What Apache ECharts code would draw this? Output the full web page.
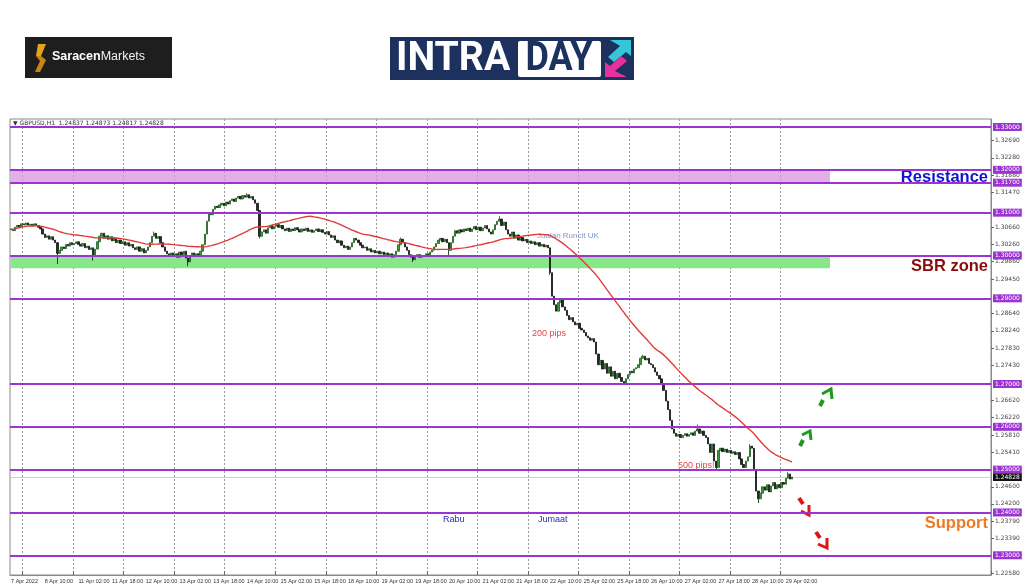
<!DOCTYPE html>
<html><head><meta charset="utf-8">
<script src="https://cdn.jsdelivr.net/npm/echarts@6/dist/echarts.min.js"></script>
<style>html,body{margin:0;padding:0;background:#fff}#c{width:1024px;height:587px}</style>
</head><body><div id="c"></div>
<script>
// ---------- DATA ----------
const xLabels = ['7 Apr 2022','8 Apr 10:00','11 Apr 02:00','11 Apr 18:00','12 Apr 10:00','13 Apr 02:00','13 Apr 18:00','14 Apr 10:00','15 Apr 02:00','15 Apr 18:00','18 Apr 10:00','19 Apr 02:00','19 Apr 18:00','20 Apr 10:00','21 Apr 02:00','21 Apr 18:00','22 Apr 10:00','25 Apr 02:00','25 Apr 18:00','26 Apr 10:00','27 Apr 02:00','27 Apr 18:00','28 Apr 10:00','29 Apr 02:00'];
const firstOpen = 1.3060;
const closes = [
1.3062,1.3058,1.3066,1.3070,1.3068,1.3074,1.3072,1.3076,1.3071,1.3073,1.3069,1.3074,1.3070,1.3066,1.3062,
1.3050,1.3042,1.3046,1.3038,1.3044,1.3036,1.3030,
1.3005,
1.3012,1.3020,1.3016,1.3026,1.3022,1.3030,1.3025,1.3028,
1.3032,1.3026,1.3022,1.3028,1.3018,1.3022,1.3014,1.3018,
1.3000,
1.3015,1.3032,1.3045,1.3052,1.3040,1.3046,
1.3038,1.3044,1.3034,1.3040,1.3030,1.3036,1.3028,1.3032,1.3024,1.3030,
1.3022,1.3026,1.3018,1.3014,1.3020,1.3010,1.3016,1.3006,1.3012,
1.3020,1.3030,1.3045,1.3052,
1.3040,1.3044,1.3030,1.3020,1.3010,1.3004,
1.3000,1.3006,1.2998,1.3004,1.2996,1.3008,1.3002,1.3010,1.2994,1.2985,1.3000,1.3006,1.2998,1.3004,1.3000,
1.3010,1.3025,1.3050,1.3080,1.3100,1.3095,1.3108,1.3115,1.3112,
1.3118,1.3122,1.3116,1.3125,1.3120,1.3128,1.3132,1.3126,1.3134,1.3138,1.3132,1.3140,
1.3136,1.3142,1.3134,1.3138,1.3130,1.3122,1.3105,
1.3045,
1.3055,1.3060,1.3052,1.3065,1.3070,1.3062,1.3068,
1.3072,1.3066,1.3070,1.3062,1.3058,1.3064,1.3056,1.3062,1.3058,1.3065,
1.3060,1.3055,1.3062,1.3058,1.3064,1.3056,1.3060,1.3054,1.3058,1.3062,1.3056,1.3060,1.3054,1.3050,1.3056,
1.3048,1.3042,1.3046,1.3036,1.3030,1.3034,1.3024,1.3018,1.3022,1.3014,
1.3020,1.3030,1.3040,1.3036,1.3030,
1.3024,1.3018,1.3020,1.3012,1.3016,1.3008,1.3012,1.3006,1.3010,1.3004,
1.3008,1.3002,1.3006,1.2998,1.3004,1.2996,1.3002,1.3010,1.3025,1.3038,
1.3030,1.3020,1.3012,1.3002,1.2996,1.2990,1.2998,1.3002,1.2996,1.3000,
1.2998,1.3004,1.3000,1.3008,1.3012,
1.3020,1.3028,1.3036,1.3040,1.3032,1.3038,1.3030,
1.3012,
1.3030,1.3045,1.3058,1.3052,1.3060,1.3055,1.3062,
1.3058,1.3064,1.3056,1.3062,1.3068,1.3060,1.3066,1.3058,1.3064,1.3070,1.3062,1.3055,1.3050,
1.3060,1.3072,1.3080,1.3085,1.3070,1.3078,1.3060,1.3050,
1.3045,1.3055,1.3040,1.3048,1.3036,1.3042,1.3034,1.3038,1.3030,
1.3034,1.3028,1.3032,1.3025,1.3030,1.3022,1.3026,1.3020,1.3024,1.3018,
1.2960,1.2905,
1.2885,1.2870,1.2890,1.2898,1.2880,1.2872,1.2860,1.2850,1.2855,1.2845,1.2838,1.2842,1.2830,
1.2826,1.2820,1.2812,1.2808,1.2802,1.2806,
1.2798,1.2770,1.2745,
1.2755,1.2735,1.2748,1.2725,1.2740,1.2718,1.2730,1.2712,1.2725,1.2715,1.2706,1.2702,1.2712,
1.2722,1.2730,1.2726,1.2735,1.2738,1.2745,1.2760,1.2765,1.2756,1.2760,1.2748,1.2745,
1.2738,1.2728,1.2720,1.2712,1.2700,1.2685,
1.2660,1.2640,1.2615,1.2595,
1.2585,1.2578,1.2582,1.2575,1.2580,1.2584,1.2578,1.2582,1.2586,1.2580,1.2590,1.2595,1.2585,1.2590,1.2580,1.2575,
1.2560,1.2540,1.2560,1.2520,1.2505,
1.2545,1.2550,1.2542,1.2548,1.2540,1.2545,1.2538,1.2542,1.2535,1.2540,
1.2525,1.2512,1.2505,1.2520,1.2530,
1.2555,1.2550,
1.2500,1.2450,1.2432,
1.2445,1.2460,1.2452,1.2465,1.2448,1.2462,1.2470,1.2455,1.2465,1.2458,1.2470,1.2466,
1.2480,1.2490,1.2478,1.24828
];
const lowWicks = [[22,1.2980],[39,1.2988],[84,1.2975],[118,1.3040],[191,1.2985],[208,1.2998],[256,1.2955],[335,1.2500],[355,1.2422]];
const highWicks = [[68,1.3056],[112,1.3146],[185,1.3042],[232,1.3092],[300,1.2768],[326,1.2605],[351,1.2560],[369,1.2495]];
const levels = [1.33,1.32,1.317,1.31,1.30,1.29,1.27,1.26,1.25,1.24,1.23];
const pinkBand = [1.317,1.320];
const greenBand = [1.297,1.300];
const yTicks = [1.22580,1.23390,1.23790,1.24200,1.24600,1.25410,1.25810,1.26220,1.26620,1.27430,1.27830,1.28240,1.28640,1.29450,1.29860,1.30260,1.30660,1.31470,1.31880,1.32280,1.32690];
const lastPrice = 1.24828;
const maPeriod = 50;
const totalSlots = 466;
const bandEndIndex = 389;

// ---------- BUILD ----------
const lowMap = Object.fromEntries(lowWicks), highMap = Object.fromEntries(highWicks);
const candles = closes.map((c,i)=>{
  const o = i===0 ? firstOpen : closes[i-1];
  let lo = Math.min(o,c), hi = Math.max(o,c);
  if (lowMap[i] !== undefined) lo = Math.min(lo, lowMap[i]);
  if (highMap[i] !== undefined) hi = Math.max(hi, highMap[i]);
  return [o,c,lo,hi];
});
const ma = closes.map((c,i)=>{
  const s = Math.max(0,i-maPeriod+1); let sum=0;
  for(let k=s;k<=i;k++) sum+=closes[k];
  return +(sum/(i-s+1)).toFixed(5);
});
const cats = Array.from({length: totalSlots}, (_,i)=>String(i));
const gridIdx = i => i>=6 && (i-6)%24===0 && i<=bandEndIndex;
const PURPLE = '#9b34d2';

const chart = echarts.init(document.getElementById('c'));
const F = 'DejaVu Sans';
const lblStyle = (bg)=>({show:true,position:'end',distance:2,color:'#fff',backgroundColor:bg,fontSize:6,fontFamily:F,padding:[1,2,1,2]});
chart.setOption({
  animation:false,
  backgroundColor:'#fff',
  grid:{left:10,right:33,top:119,bottom:12,show:true,borderColor:'#8a8a8a',borderWidth:1},
  xAxis:{type:'category',data:cats,boundaryGap:true,
    axisLine:{lineStyle:{color:'#8a8a8a'}},
    axisTick:{show:true,inside:true,length:4,interval:(i)=>gridIdx(i),lineStyle:{color:'#666'}},
    axisLabel:{interval:(i)=>i%16===0 && i/16<xLabels.length,formatter:(v,i)=>xLabels[i/16]||'',
      fontSize:5.5,fontFamily:'Liberation Sans',color:'#333',margin:3,align:'left'},
    splitLine:{show:true,interval:(i)=>gridIdx(i),lineStyle:{color:'#9a9a9a',type:[2,2],width:1}}
  },
  yAxis:{type:'value',position:'right',min:1.2254,max:1.33187,scale:true,
    axisLine:{show:true,lineStyle:{color:'#8a8a8a'}},
    axisTick:{show:true,length:3,customValues:yTicks,lineStyle:{color:'#666'}},
    axisLabel:{customValues:yTicks,formatter:v=>v.toFixed(5),fontSize:6,fontFamily:F,color:'#444',margin:4},
    splitLine:{show:false}},
  series:[
    {type:'candlestick',data:candles,barWidth:1.8,z:3,
      itemStyle:{color:'#3c9c3c',color0:'#2a2a2a',borderColor:'#1d5e1d',borderColor0:'#111',borderWidth:0.8},
      markArea:{silent:true,z:1,data:[
        [{xAxis:0,yAxis:pinkBand[0],itemStyle:{color:'rgba(214,150,222,0.75)'}},{xAxis:bandEndIndex,yAxis:pinkBand[1]}],
        [{xAxis:0,yAxis:greenBand[0],itemStyle:{color:'rgba(130,230,130,0.95)'}},{xAxis:bandEndIndex,yAxis:greenBand[1]}]
      ]},
      markLine:{silent:true,symbol:'none',precision:5,z:4,data:
        levels.map(v=>({yAxis:v,lineStyle:{color:PURPLE,width:2,type:'solid'},
          label:Object.assign(lblStyle(PURPLE),{formatter:v.toFixed(5)})}))
      }
    },
    {type:'line',data:ma,showSymbol:false,symbol:'none',z:5,lineStyle:{color:'#e23a3a',width:1.4},
      markLine:{silent:true,symbol:'none',precision:5,z:2,data:[
        {yAxis:lastPrice,lineStyle:{color:'#cfcfcf',width:1,type:'solid'},
          label:Object.assign(lblStyle('#111'),{formatter:lastPrice.toFixed(5)})}]}
    }
  ],
  graphic:[
    // header
    {type:'text',left:13,top:120,style:{text:'\u25BC GBPUSD,H1  1.24837 1.24873 1.24817 1.24828',fontSize:6,fontFamily:F,fill:'#333'}},
    // annotations
    {type:'text',x:537,y:236,style:{text:'Jualan Runcit UK',fontSize:8,fontFamily:'Liberation Sans',fill:'#7f93d8',verticalAlign:'middle'}},
    {type:'text',x:532,y:334,style:{text:'200 pips',fontSize:9,fontFamily:'Liberation Sans',fill:'#e04848',verticalAlign:'middle'}},
    {type:'text',x:678,y:466,style:{text:'500 pips!',fontSize:9,fontFamily:'Liberation Sans',fill:'#e04848',verticalAlign:'middle'}},
    {type:'text',x:443,y:520,style:{text:'Rabu',fontSize:9,fontFamily:'Liberation Sans',fill:'#2a2ab8',verticalAlign:'middle'}},
    {type:'text',x:538,y:520,style:{text:'Jumaat',fontSize:9,fontFamily:'Liberation Sans',fill:'#2a2ab8',verticalAlign:'middle'}},
    {type:'text',x:988,y:177,style:{text:'Resistance',fontSize:16.5,fontWeight:'bold',fontFamily:'Liberation Sans',fill:'#1212d8',align:'right',verticalAlign:'middle'}},
    {type:'text',x:988,y:266,style:{text:'SBR zone',fontSize:16.5,fontWeight:'bold',fontFamily:'Liberation Sans',fill:'#8b0a0a',align:'right',verticalAlign:'middle'}},
    {type:'text',x:988,y:523,style:{text:'Support',fontSize:16.5,fontWeight:'bold',fontFamily:'Liberation Sans',fill:'#f07a22',align:'right',verticalAlign:'middle'}},
    // arrows (green up, red down)
    {type:'line',shape:{x1:820,y1:406,x2:823,y2:400},style:{stroke:'#1f9a1f',lineWidth:4}},
    {type:'polyline',shape:{points:[[822,394],[831,389],[832,399]]},style:{stroke:'#1f9a1f',lineWidth:3,fill:null}},
    {type:'line',shape:{x1:800,y1:446,x2:803,y2:440},style:{stroke:'#1f9a1f',lineWidth:4}},
    {type:'polyline',shape:{points:[[802,435],[810,431],[811,440]]},style:{stroke:'#1f9a1f',lineWidth:3,fill:null}},
    {type:'line',shape:{x1:799,y1:498,x2:803,y2:504},style:{stroke:'#e01414',lineWidth:4}},
    {type:'polyline',shape:{points:[[801,511],[809,515],[809,505]]},style:{stroke:'#e01414',lineWidth:3,fill:null}},
    {type:'line',shape:{x1:816,y1:532,x2:820,y2:538},style:{stroke:'#e01414',lineWidth:4}},
    {type:'polyline',shape:{points:[[818,544],[827,548],[827,538]]},style:{stroke:'#e01414',lineWidth:3,fill:null}},
    // Saracen logo
    {type:'rect',shape:{x:25,y:37,width:147,height:41},style:{fill:'#1e1e1e'}},
    {type:'polygon',shape:{points:[[38,44],[46,44],[41,56],[36,56]]},style:{fill:'#e4a41e'}},
    {type:'polygon',shape:{points:[[41,56],[46,60],[40,72],[35,72],[40,61],[36,56]]},style:{fill:'#c98512'}},
    {type:'text',x:52,y:57,style:{text:'{b|Saracen}{n|Markets}',verticalAlign:'middle',
      rich:{b:{fontSize:12.5,fontWeight:'bold',fill:'#fff',fontFamily:'Liberation Sans'},n:{fontSize:12.5,fill:'#f2f2f2',fontFamily:'Liberation Sans'}}}},
    // INTRADAY logo
    {type:'rect',shape:{x:390,y:37,width:244,height:43},style:{fill:'#1c315e'}},
    {type:'text',x:396,y:60,scaleX:0.98,originX:0,originY:0,style:{text:'INTRA',fontSize:40,fontWeight:'bold',fontFamily:'Roboto',fill:'#fff',verticalAlign:'middle'}},
    {type:'rect',shape:{x:518,y:41,width:83,height:36,r:2},style:{fill:'#fff'}},
    {type:'text',x:559,y:60,scaleX:0.9,originX:0,originY:0,style:{text:'DAY',fontSize:40,fontWeight:'bold',fontFamily:'Roboto',fill:'#1c315e',align:'center',verticalAlign:'middle'}},
    {type:'polygon',shape:{points:[[610,40],[631,40],[631,56],[626,52],[614,62],[608,57],[620,46]]},style:{fill:'#33c7d8'}},
    {type:'polygon',shape:{points:[[627,77],[605,77],[605,62],[610,66],[621,56],[627,61],[615,71]]},style:{fill:'#e6309e'}}
  ]
});
</script></body></html>
